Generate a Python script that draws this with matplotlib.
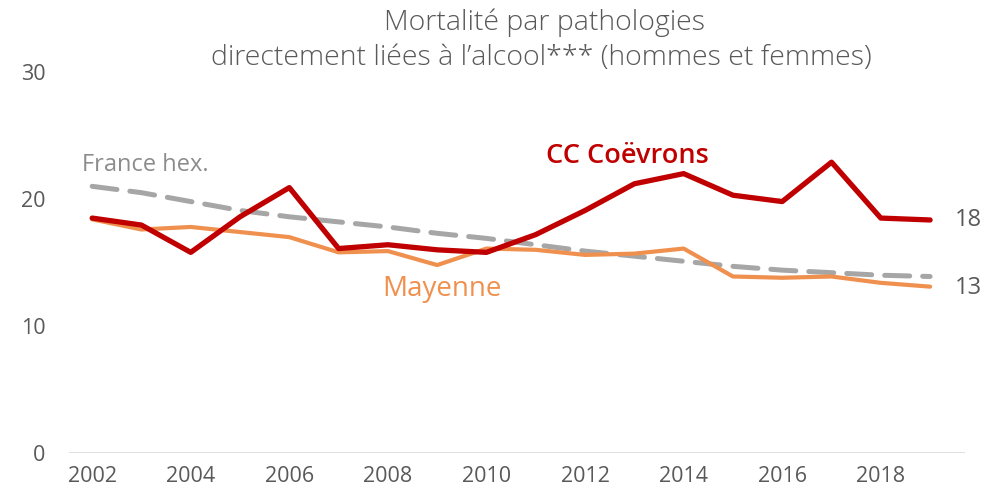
import matplotlib
matplotlib.use("Agg")
import matplotlib.pyplot as plt

plt.rcParams['font.family'] = ['Open Sans', 'DejaVu Sans']

years = list(range(2002, 2020))
coevrons = [18.5, 17.95, 15.8, 18.6, 20.9, 16.1, 16.4, 16.0, 15.8, 17.2, 19.1, 21.2, 22.0, 20.3, 19.8, 22.9, 18.5, 18.35]
mayenne = [18.4, 17.6, 17.8, 17.4, 17.0, 15.8, 15.9, 14.8, 16.1, 16.0, 15.6, 15.7, 16.1, 13.9, 13.8, 13.9, 13.4, 13.1]
france = [21.0, 20.5, 19.8, 19.1, 18.6, 18.2, 17.8, 17.3, 16.9, 16.4, 15.9, 15.5, 15.1, 14.7, 14.4, 14.2, 14.0, 13.9]
xticks = [2002, 2004, 2006, 2008, 2010, 2012, 2014, 2016, 2018]
yticks = [0, 10, 20, 30]

RED = '#C00000'
ORANGE = '#F0904F'
GRAY = '#A6A6A6'
TXT = '#595959'

fig = plt.figure(figsize=(9.97, 4.95), dpi=100)
ax = fig.add_axes([0.0692, 0.0848, 0.8988, 0.7697])

ax.plot(years, france, color=GRAY, lw=3.6, dashes=(5, 2.6), solid_capstyle='round', dash_capstyle='round', zorder=2)
ax.plot(years, mayenne, color=ORANGE, lw=3.0, solid_capstyle='round', zorder=3)
ax.plot(years, coevrons, color=RED, lw=3.8, solid_capstyle='round', zorder=4)

ax.set_xlim(2001.53, 2019.71)
ax.set_ylim(0, 30)
ax.axhline(0, color='#D9D9D9', lw=1.2, zorder=1)
for s in ax.spines.values():
    s.set_visible(False)
ax.set_xticks(xticks)
ax.set_xticklabels([str(x) for x in xticks])
ax.set_yticks(yticks)
ax.tick_params(axis='both', length=0, labelsize=15.5, colors=TXT)
ax.tick_params(axis='y', pad=17)
ax.tick_params(axis='x', pad=9)

fig.text(0.546, 0.955, "Mortalité par pathologies", ha='center', va='center', fontsize=20.5, color=TXT, fontweight='light')
fig.text(0.543, 0.882, "directement liées à l\u2019alcool*** (hommes et femmes)", ha='center', va='center', fontsize=20.5, color=TXT, fontweight='light')

ax.text(2001.8, 22.7, "France hex.", color='#8C8C8C', fontsize=17, ha='left', va='center')
ax.text(2011.2, 23.4, "CC Coëvrons", color=RED, fontsize=19.5, fontweight='semibold', ha='left', va='center')
ax.text(2009.1, 12.9, "Mayenne", color=ORANGE, fontsize=20, ha='center', va='center')
ax.text(2019.5, 18.35, "18", color=TXT, fontsize=17, ha='left', va='center')
ax.text(2019.5, 13.0, "13", color=TXT, fontsize=17, ha='left', va='center')

fig.savefig("out.png", dpi=100)
